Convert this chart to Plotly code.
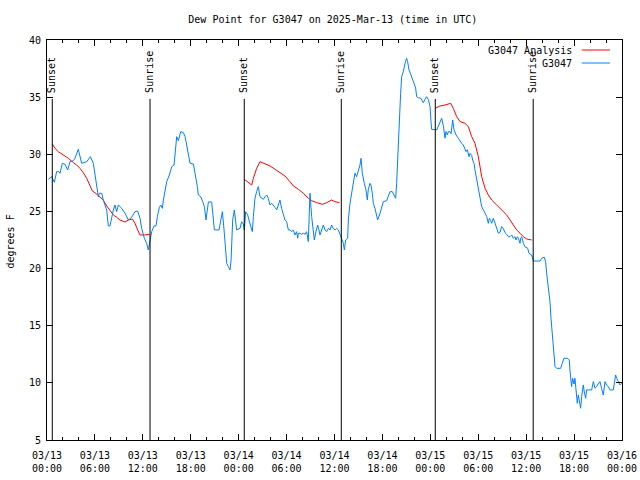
import pandas as pd
import plotly.graph_objects as go

BASE = pd.Timestamp("2025-03-13 00:00")

# Observations (hours after 2025-03-13 00:00 UTC, dew point degF)
obs_hours = [
    0.17, 0.58, 0.92, 1.21, 1.50, 1.63, 1.92, 2.25, 2.59, 2.88, 3.30, 3.51, 3.92, 4.13, 4.34,
    4.97, 5.43, 5.80, 6.01, 6.22, 6.43, 6.55, 6.85, 7.05, 7.47, 7.68, 7.89, 8.31, 8.52, 8.72,
    8.93, 9.35, 9.77, 10.19, 10.60, 11.02, 11.35, 11.65, 11.85, 12.19,
    12.48, 12.69, 12.99, 13.11, 13.40, 13.65, 13.82, 14.07, 14.24, 14.45, 14.57, 14.78, 14.99,
    15.32, 15.62, 15.91, 16.16, 16.24, 16.45, 16.74, 17.08, 17.29, 17.49, 17.70, 17.91, 18.33,
    18.66, 18.83, 18.95, 19.25, 19.50, 19.71, 19.91, 20.12, 20.21, 20.62, 20.83, 20.96, 21.54,
    21.75, 21.96, 22.17, 22.29, 22.50, 22.71, 22.92, 23.05, 23.17, 23.25, 23.46, 23.55,
    23.75, 24.17, 24.37, 24.58, 24.71, 24.88, 25.13, 25.29, 25.54, 25.71, 25.84, 26.04, 26.25,
    26.46, 26.67, 26.88, 27.09, 27.30, 27.51, 27.71, 27.92, 28.13, 28.34, 28.55, 28.76, 28.97,
    29.17, 29.38, 29.59, 29.80, 30.01, 30.22, 30.43, 30.64, 30.85, 31.05, 31.26, 31.39, 31.47,
    31.68, 31.89, 32.10, 32.31, 32.51, 32.72, 32.93, 33.14, 33.35, 33.47, 33.68, 33.89, 34.06,
    34.18, 34.39, 34.60, 34.81, 35.02, 35.23, 35.44, 35.64, 35.85, 36.06, 36.27, 36.48, 36.69,
    36.90, 37.11, 37.23,
    37.40, 37.65, 37.73, 37.94, 38.15, 38.36, 38.56, 38.77, 38.98, 39.19, 39.32, 39.48, 39.73,
    39.94, 40.11, 40.23, 40.44, 40.57, 40.73, 40.86, 41.07, 41.28, 41.40, 41.70, 41.90, 42.11,
    42.53, 42.74, 42.95, 43.24, 43.49, 43.66, 43.78, 43.91, 43.99, 44.12, 44.28, 44.41, 44.62,
    44.83, 45.03, 45.16, 45.33, 45.58, 45.74, 45.99, 46.16, 46.29, 46.50, 46.83, 47.00, 47.12,
    47.33, 47.54, 47.75, 47.96, 48.08, 48.16, 48.80,
    49.00, 49.21, 49.42, 49.63, 49.84, 49.96, 50.13, 50.26, 50.46, 50.59, 50.80, 50.97, 51.22,
    51.51, 51.72, 51.93, 52.13, 52.34, 52.47, 52.63, 52.84, 52.97, 53.18, 53.30, 53.47, 53.59,
    53.80, 54.01, 54.22, 54.43, 54.64, 54.85, 55.06, 55.26, 55.39, 55.56, 55.68, 55.89, 56.10,
    56.31, 56.52, 56.73, 56.93, 57.14, 57.35, 57.56, 57.77, 57.98, 58.19, 58.39, 58.60, 58.73,
    58.90, 59.02, 59.23, 59.31, 59.44, 59.65, 59.86,
    60.19, 60.35, 60.69, 60.77, 60.90, 61.73, 61.94, 62.27, 62.44, 62.56, 62.69, 62.86, 62.98,
    63.11, 63.27, 63.44, 63.61, 63.82, 64.32, 64.52, 64.73, 65.19, 65.40, 65.48, 65.61, 65.69,
    65.82, 65.99, 66.11, 66.19, 66.40, 66.53, 66.65, 66.82, 66.95, 67.15, 67.28, 67.45, 67.57,
    67.78, 68.20, 68.41, 68.62, 68.82, 69.03, 69.24, 69.45, 69.66, 69.87, 70.08, 70.29, 70.49,
    70.91, 71.12, 71.20, 71.33, 71.54, 71.75, 71.96,
]
obs_values = [
    27.81, 28.04, 27.55, 28.48, 28.48, 28.34, 29.21, 29.12, 28.63, 29.35, 29.44, 29.65, 30.44, 29.94, 29.21,
    29.35, 29.79, 29.21, 28.34, 27.46, 26.29, 26.59, 26.59, 26.00, 25.13, 23.73, 23.73, 25.13, 25.56, 24.98,
    25.56, 25.27, 24.84, 24.25, 24.49, 24.98, 25.04, 24.40, 23.52, 22.65,
    22.21, 21.63, 22.79, 23.23, 23.73, 23.73, 24.55, 25.36, 25.56, 25.27, 26.00, 27.03, 27.60,
    28.19, 28.92, 29.06, 30.96, 31.54, 31.19, 31.98, 31.89, 31.54, 30.81, 29.79, 29.21, 29.15,
    28.04, 27.17, 26.44, 26.29, 25.85, 25.42, 24.25, 25.36, 25.83, 25.83, 23.96, 23.38, 23.38,
    24.25, 24.98, 23.38, 21.92, 20.46, 20.17, 19.88, 20.75, 22.50, 24.25, 25.13, 24.55,
    23.38, 23.52, 24.10, 23.90, 23.38, 24.98, 24.69, 24.25, 23.67, 23.23, 24.55, 26.15, 26.73,
    27.17, 26.29, 26.15, 26.06, 26.29, 26.44, 26.15, 25.56, 25.71, 25.56, 25.36, 25.13, 25.71,
    26.00, 25.27, 24.69, 24.25, 24.10, 23.38, 23.38, 23.23, 23.38, 22.94, 23.23, 22.65, 23.09,
    23.09, 23.00, 23.09, 23.00, 23.23, 22.36, 26.59, 24.55, 23.50, 22.50, 23.23, 23.81, 23.38,
    22.94, 23.38, 23.81, 23.38, 23.23, 23.52, 23.38, 23.81, 23.50, 23.38, 23.52, 23.38, 22.94,
    22.65, 22.21, 21.63,
    22.50, 22.65, 24.25, 25.71, 26.59, 27.60, 28.34, 28.04, 28.48, 29.06, 29.65, 28.34, 27.46,
    26.88, 26.00, 26.90, 27.46, 27.30, 26.59, 25.71, 25.27, 24.69, 24.25, 24.84, 25.42, 25.85,
    25.94, 26.30, 26.73, 26.73, 26.29, 26.15, 27.46, 29.79, 31.25, 33.29, 35.33, 36.79, 37.23,
    37.96, 38.40, 38.10, 37.38, 36.94, 36.60, 36.21, 35.80, 35.04, 34.95, 34.90, 34.70, 34.51,
    34.80, 35.04, 34.80, 34.20, 32.90, 32.19, 32.13,
    32.50, 32.86, 33.15, 32.50, 31.40, 32.00, 31.69, 31.98, 31.98, 31.80, 33.00, 32.13, 31.69,
    31.40, 31.10, 30.95, 30.81, 30.50, 30.23, 30.40, 29.79, 30.08, 29.90, 29.50, 29.21, 28.63,
    27.75, 27.17, 26.29, 25.42, 25.13, 24.84, 24.55, 23.96, 24.40, 24.20, 23.96, 24.40, 23.96,
    23.38, 23.09, 23.20, 23.67, 23.50, 23.14, 23.00, 22.79, 22.79, 22.94, 22.65, 22.79, 22.50,
    22.79, 22.65, 22.21, 22.65, 22.79, 22.21, 21.90,
    21.78, 21.34, 21.19, 20.90, 20.66, 20.66, 20.90, 20.99, 20.60, 19.59, 18.86, 18.13, 17.11,
    15.65, 14.19, 12.88, 11.42, 11.27, 11.27, 11.70, 12.15, 12.15, 12.00, 11.13, 10.25, 9.67,
    10.40, 9.90, 10.40, 9.60, 8.21, 8.94, 8.50, 7.78, 8.80, 9.82, 9.20, 8.65, 9.38,
    9.38, 9.38, 10.11, 9.53, 9.70, 9.96, 10.11, 9.50, 8.94, 10.11, 9.80, 9.67, 9.38,
    9.38, 10.54, 10.69, 10.40, 10.11, 9.82, 9.96,
]

# Analysis (nighttime only; None separates nights)
ana_hours = [
    0.67, 1.00, 1.42, 2.05, 2.67, 3.30, 3.72, 4.13, 4.55, 4.97, 5.38, 5.68, 6.01, 6.34, 7.05,
    7.47, 7.89, 8.31, 8.72, 9.14, 9.77, 10.19, 10.69, 11.02, 11.35, 11.65, 12.19, 12.85,
    None,
    24.71, 25.21, 25.63, 25.84, 26.25, 26.67, 27.30, 27.92, 28.55, 29.17, 29.80, 30.43, 30.85,
    31.47, 32.10, 32.72, 33.14, 33.77, 34.48, 35.02, 35.64, 36.06, 36.61,
    None,
    48.59, 49.21, 49.84, 50.55, 50.88, 51.30, 51.72, 52.34, 52.76, 53.18, 53.59, 54.01, 54.43,
    54.85, 55.26, 55.68, 56.31, 56.93, 57.56, 57.98, 58.39, 58.81, 59.23, 59.65, 60.06, 60.69,
]
ana_values = [
    30.90, 30.52, 30.23, 29.94, 29.65, 29.27, 29.06, 28.77, 28.39, 27.90, 27.17, 26.79, 26.64,
    26.44, 26.00, 25.48, 25.04, 24.69, 24.49, 24.25, 24.08, 24.25, 24.34, 23.96, 23.38, 22.94,
    22.94, 23.00,
    None,
    27.81, 27.52, 27.31, 27.90, 28.77, 29.35, 29.15, 28.98, 28.69, 28.39, 28.10, 27.60, 27.23,
    26.94, 26.59, 26.15, 25.94, 25.77, 25.62, 25.77, 26.00, 25.85, 25.77,
    None,
    34.02, 34.23, 34.31, 34.46, 34.02, 33.29, 32.86, 32.71, 32.42, 31.54, 30.96, 29.79, 28.04,
    27.03, 26.44, 26.00, 25.56, 25.13, 24.69, 24.25, 23.81, 23.38, 23.09, 22.79, 22.59, 22.50,
]

sunset_hours = [0.66, 24.70, 48.62]
sunrise_hours = [12.90, 36.85, 60.88]
marker_top = 34.85

series_names = ["G3047 Analysis", "G3047"]
series_colors = ["#ff0000", "#0080ff"]


def to_time(hours):
    return [None if h is None else BASE + pd.Timedelta(hours=h) for h in hours]


FONT = "DejaVu Sans Mono"
fig = go.Figure()
fig.add_trace(go.Scatter(x=to_time(ana_hours), y=ana_values, mode="lines",
                         name=series_names[0], line=dict(color=series_colors[0], width=1),
                         connectgaps=False, showlegend=False))
fig.add_trace(go.Scatter(x=to_time(obs_hours), y=obs_values, mode="lines",
                         name=series_names[1], line=dict(color=series_colors[1], width=1),
                         showlegend=False))

for label, hours in (("Sunset", sunset_hours), ("Sunrise", sunrise_hours)):
    for t in to_time(hours):
        fig.add_shape(type="line", xref="x", yref="y", x0=t, x1=t, y0=5, y1=marker_top,
                      line=dict(color="black", width=1))
        fig.add_annotation(x=t, y=marker_top, xref="x", yref="y", text=label,
                           textangle=-90, showarrow=False, xanchor="center",
                           yanchor="bottom", yshift=4, font=dict(family=FONT, size=10, color="black"))

# custom key: text on the left, line sample on the right
for i, (name, color) in enumerate(zip(series_names, series_colors)):
    ypos = 0.975 - i * 0.0325
    fig.add_annotation(x=0.9165, y=ypos, xref="paper", yref="paper", text=name,
                       showarrow=False, xanchor="right", yanchor="middle",
                       font=dict(family=FONT, size=10, color="black"))
    fig.add_shape(type="line", xref="paper", yref="paper", x0=0.930, x1=0.979,
                  y0=ypos, y1=ypos, line=dict(color=color, width=1))

# y axis title placed like the reference (left edge of the image)
fig.add_annotation(x=-0.0652, y=0.495, xref="paper", yref="paper", text="degrees F",
                   textangle=-90, showarrow=False, xanchor="center", yanchor="middle",
                   font=dict(family=FONT, size=10, color="black"))

fig.update_layout(
    width=640, height=480,
    margin=dict(l=47, r=18, t=40, b=40, autoexpand=False),
    paper_bgcolor="white", plot_bgcolor="white",
    font=dict(family=FONT, size=10, color="black"),
    title=dict(text="Dew Point for G3047 on 2025-Mar-13 (time in UTC)", x=0.52, xanchor="center",
               y=0.96, yanchor="middle", font=dict(family=FONT, size=10)),
    showlegend=False,
)
fig.update_xaxes(
    type="date", range=[BASE, BASE + pd.Timedelta(hours=72)],
    tickmode="linear", tick0=BASE, dtick=6 * 3600 * 1000,
    tickformat="%m/%d<br>%H:%M", ticks="inside", ticklen=6, tickcolor="black",
    minor=dict(dtick=2 * 3600 * 1000, ticks="inside", ticklen=3, tickcolor="black"),
    showline=True, linecolor="black", linewidth=1, mirror="ticks",
    showgrid=False, zeroline=False, automargin=False, ticklabelstandoff=6,
)
fig.update_yaxes(
    range=[5, 40], tickmode="linear", tick0=5, dtick=5,
    ticks="inside", ticklen=6, tickcolor="black",
    showline=True, linecolor="black", linewidth=1, mirror="ticks",
    showgrid=False, zeroline=False, automargin=False, ticklabelstandoff=3,
)

fig.write_html("out.html", config={"displayModeBar": False},
               post_script="document.body.style.margin='0';")
